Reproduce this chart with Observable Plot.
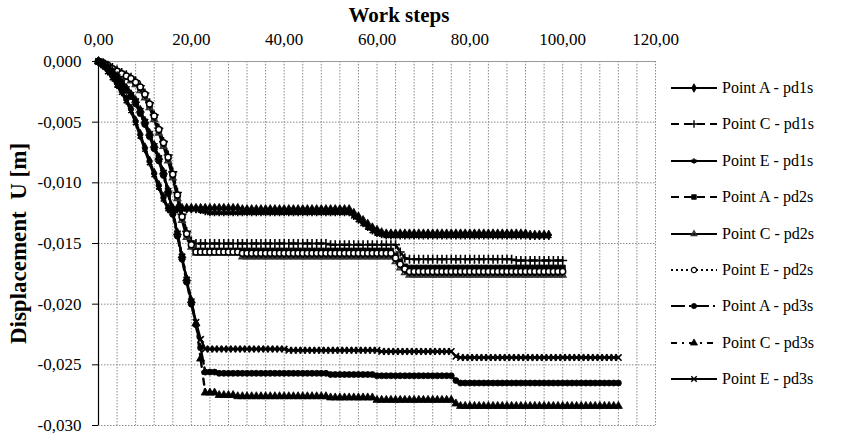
<!DOCTYPE html>
<html>
<head>
<meta charset="utf-8">
<script src="https://cdn.jsdelivr.net/npm/d3@7"></script>
<script src="https://cdn.jsdelivr.net/npm/@observablehq/plot@0.6"></script>
<style>
  html, body { margin: 0; padding: 0; background: #fff; }
  #wrap { position: relative; width: 843px; height: 438px; font-family: "Liberation Serif", "DejaVu Serif", "Liberation Sans", sans-serif; }
  #legend { position: absolute; left: 670px; top: 0px; }
  .row { position: absolute; left: 0; display: flex; align-items: center; white-space: nowrap; font-size: 16px; color: #000; }
  .row svg { display: block; }
  .row span { margin-left: 4px; }
</style>
</head>
<body>
<div id="wrap"><div id="legend"></div></div>
<script>
// ---- tick labels ----
const xTicks = [0, 20, 40, 60, 80, 100, 120];
const yTicks = [0, -0.005, -0.010, -0.015, -0.020, -0.025, -0.030];
const xTitle = "Work steps";
const yTitle = "Displacement  U [m]";

// ---- series names ----
const seriesNames = ["Point A - pd1s", "Point C - pd1s", "Point E - pd1s",
                     "Point A - pd2s", "Point C - pd2s", "Point E - pd2s",
                     "Point A - pd3s", "Point C - pd3s", "Point E - pd3s"];

// ---- displacement U [m] per work step (index = step) ----
const A_pd1s = [
  0, -0.0003, -0.0007, -0.0012, -0.0018, -0.0024, -0.0031, -0.0039, -0.0049, -0.0060,
  -0.0071, -0.0082, -0.0092, -0.0102, -0.0112, -0.0121, -0.0121, -0.0121, -0.0121, -0.0121,
  -0.0121, -0.0121, -0.0121, -0.0121, -0.0121, -0.0121, -0.0121, -0.0121, -0.0121, -0.0121,
  -0.0121, -0.0122, -0.0122, -0.0122, -0.0122, -0.0122, -0.0122, -0.0122, -0.0122, -0.0122,
  -0.0122, -0.0122, -0.0122, -0.0122, -0.0122, -0.0122, -0.0122, -0.0122, -0.0122, -0.0122,
  -0.0122, -0.0122, -0.0122, -0.0122, -0.0122, -0.0125, -0.0128, -0.0131, -0.0134, -0.0137,
  -0.0139, -0.0141, -0.0142, -0.0142, -0.0142, -0.0142, -0.0142, -0.0142, -0.0142, -0.0142,
  -0.0142, -0.0142, -0.0142, -0.0142, -0.0142, -0.0142, -0.0142, -0.0142, -0.0142, -0.0142,
  -0.0142, -0.0142, -0.0142, -0.0142, -0.0142, -0.0142, -0.0142, -0.0142, -0.0142, -0.0142,
  -0.0142, -0.0142, -0.0142, -0.0143, -0.0143, -0.0143, -0.0143, -0.0143
];
const C_pd1s = [
  0, -0.0001, -0.0003, -0.0005, -0.0007, -0.0009, -0.0011, -0.0013, -0.0016, -0.0020,
  -0.0026, -0.0034, -0.0044, -0.0055, -0.0066, -0.0077, -0.0091, -0.0108, -0.0126, -0.0140,
  -0.0148, -0.0150, -0.0150, -0.0150, -0.0150, -0.0150, -0.0150, -0.0150, -0.0150, -0.0150,
  -0.0150, -0.0150, -0.0150, -0.0150, -0.0150, -0.0150, -0.0150, -0.0150, -0.0150, -0.0150,
  -0.0150, -0.0150, -0.0150, -0.0150, -0.0150, -0.0150, -0.0150, -0.0150, -0.0150, -0.0150,
  -0.0151, -0.0151, -0.0151, -0.0151, -0.0151, -0.0151, -0.0151, -0.0151, -0.0151, -0.0151,
  -0.0151, -0.0151, -0.0151, -0.0151, -0.0151, -0.0157, -0.0162, -0.0163, -0.0163, -0.0163,
  -0.0163, -0.0163, -0.0163, -0.0163, -0.0163, -0.0163, -0.0163, -0.0163, -0.0163, -0.0163,
  -0.0163, -0.0163, -0.0163, -0.0163, -0.0163, -0.0163, -0.0163, -0.0163, -0.0163, -0.0163,
  -0.0164, -0.0164, -0.0164, -0.0164, -0.0164, -0.0164, -0.0164, -0.0164, -0.0164, -0.0164,
  -0.0164
];
const E_pd1s = [
  0, -0.0004, -0.0009, -0.0014, -0.0020, -0.0026, -0.0033, -0.0041, -0.0051, -0.0062,
  -0.0073, -0.0084, -0.0094, -0.0104, -0.0114, -0.0122, -0.0122, -0.0122, -0.0122, -0.0122,
  -0.0122, -0.0122, -0.0123, -0.0124, -0.0125, -0.0125, -0.0125, -0.0125, -0.0125, -0.0125,
  -0.0125, -0.0125, -0.0125, -0.0125, -0.0125, -0.0125, -0.0125, -0.0125, -0.0125, -0.0125,
  -0.0125, -0.0125, -0.0125, -0.0125, -0.0125, -0.0125, -0.0125, -0.0125, -0.0125, -0.0125,
  -0.0125, -0.0125, -0.0125, -0.0125, -0.0125, -0.0128, -0.0131, -0.0134, -0.0137, -0.0140,
  -0.0142, -0.0143, -0.0144, -0.0144, -0.0144, -0.0144, -0.0144, -0.0144, -0.0144, -0.0144,
  -0.0144, -0.0144, -0.0144, -0.0144, -0.0144, -0.0144, -0.0144, -0.0144, -0.0144, -0.0144,
  -0.0144, -0.0144, -0.0144, -0.0144, -0.0144, -0.0144, -0.0144, -0.0144, -0.0144, -0.0144,
  -0.0144, -0.0144, -0.0144, -0.0144, -0.0144, -0.0144, -0.0144, -0.0144
];
const A_pd2s = [
  0, -0.0002, -0.0004, -0.0006, -0.0008, -0.0010, -0.0012, -0.0015, -0.0018, -0.0022,
  -0.0028, -0.0036, -0.0046, -0.0057, -0.0068, -0.0080, -0.0094, -0.0111, -0.0129, -0.0143,
  -0.0152, -0.0156, -0.0156, -0.0156, -0.0156, -0.0156, -0.0156, -0.0156, -0.0156, -0.0156,
  -0.0156, -0.0156, -0.0156, -0.0156, -0.0156, -0.0156, -0.0156, -0.0156, -0.0156, -0.0156,
  -0.0156, -0.0156, -0.0156, -0.0156, -0.0156, -0.0156, -0.0156, -0.0156, -0.0156, -0.0156,
  -0.0156, -0.0156, -0.0156, -0.0156, -0.0156, -0.0156, -0.0156, -0.0156, -0.0156, -0.0156,
  -0.0156, -0.0156, -0.0156, -0.0156, -0.0160, -0.0165, -0.0169, -0.0170, -0.0170, -0.0170,
  -0.0170, -0.0170, -0.0170, -0.0170, -0.0170, -0.0170, -0.0170, -0.0170, -0.0170, -0.0170,
  -0.0170, -0.0170, -0.0170, -0.0170, -0.0170, -0.0170, -0.0170, -0.0170, -0.0170, -0.0170,
  -0.0170, -0.0170, -0.0170, -0.0170, -0.0170, -0.0170, -0.0170, -0.0170, -0.0170, -0.0170,
  -0.0170
];
const C_pd2s = [
  0, -0.0002, -0.0004, -0.0007, -0.0009, -0.0011, -0.0013, -0.0016, -0.0019, -0.0024,
  -0.0030, -0.0038, -0.0048, -0.0059, -0.0070, -0.0082, -0.0096, -0.0113, -0.0131, -0.0145,
  -0.0153, -0.0158, -0.0158, -0.0158, -0.0158, -0.0158, -0.0158, -0.0158, -0.0158, -0.0158,
  -0.0158, -0.0161, -0.0161, -0.0161, -0.0161, -0.0161, -0.0161, -0.0161, -0.0161, -0.0161,
  -0.0161, -0.0161, -0.0161, -0.0161, -0.0161, -0.0161, -0.0161, -0.0161, -0.0161, -0.0161,
  -0.0161, -0.0161, -0.0161, -0.0161, -0.0161, -0.0161, -0.0161, -0.0161, -0.0161, -0.0161,
  -0.0161, -0.0161, -0.0161, -0.0161, -0.0165, -0.0170, -0.0174, -0.0176, -0.0176, -0.0176,
  -0.0176, -0.0176, -0.0176, -0.0176, -0.0176, -0.0176, -0.0176, -0.0176, -0.0176, -0.0176,
  -0.0176, -0.0176, -0.0176, -0.0176, -0.0176, -0.0176, -0.0176, -0.0176, -0.0176, -0.0176,
  -0.0176, -0.0176, -0.0176, -0.0176, -0.0176, -0.0176, -0.0176, -0.0176, -0.0176, -0.0176,
  -0.0176
];
const E_pd2s = [
  0, -0.0001, -0.0003, -0.0006, -0.0008, -0.0010, -0.0012, -0.0014, -0.0017, -0.0021,
  -0.0027, -0.0035, -0.0045, -0.0056, -0.0067, -0.0079, -0.0093, -0.0110, -0.0128, -0.0142,
  -0.0151, -0.0157, -0.0157, -0.0157, -0.0157, -0.0157, -0.0157, -0.0157, -0.0157, -0.0157,
  -0.0157, -0.0158, -0.0158, -0.0158, -0.0158, -0.0158, -0.0158, -0.0158, -0.0158, -0.0158,
  -0.0158, -0.0158, -0.0158, -0.0158, -0.0158, -0.0158, -0.0158, -0.0158, -0.0158, -0.0158,
  -0.0158, -0.0158, -0.0158, -0.0158, -0.0158, -0.0158, -0.0158, -0.0158, -0.0158, -0.0158,
  -0.0158, -0.0158, -0.0158, -0.0158, -0.0162, -0.0167, -0.0171, -0.0173, -0.0173, -0.0173,
  -0.0173, -0.0173, -0.0173, -0.0173, -0.0173, -0.0173, -0.0173, -0.0173, -0.0173, -0.0173,
  -0.0173, -0.0173, -0.0173, -0.0173, -0.0173, -0.0173, -0.0173, -0.0173, -0.0173, -0.0173,
  -0.0173, -0.0173, -0.0173, -0.0173, -0.0173, -0.0173, -0.0173, -0.0173, -0.0173, -0.0173,
  -0.0173
];
const A_pd3s = [
  0, -0.0003, -0.0006, -0.0010, -0.0014, -0.0019, -0.0024, -0.0029, -0.0035, -0.0043,
  -0.0052, -0.0062, -0.0072, -0.0082, -0.0094, -0.0109, -0.0126, -0.0144, -0.0163, -0.0182,
  -0.0200, -0.0217, -0.0236, -0.0256, -0.0256, -0.0256, -0.0257, -0.0257, -0.0257, -0.0257,
  -0.0257, -0.0257, -0.0257, -0.0257, -0.0257, -0.0257, -0.0257, -0.0257, -0.0257, -0.0257,
  -0.0257, -0.0257, -0.0257, -0.0257, -0.0257, -0.0257, -0.0257, -0.0257, -0.0257, -0.0257,
  -0.0258, -0.0258, -0.0258, -0.0258, -0.0258, -0.0258, -0.0258, -0.0258, -0.0258, -0.0258,
  -0.0259, -0.0259, -0.0259, -0.0259, -0.0259, -0.0259, -0.0259, -0.0259, -0.0259, -0.0259,
  -0.0259, -0.0259, -0.0259, -0.0259, -0.0259, -0.0259, -0.0259, -0.0263, -0.0265, -0.0265,
  -0.0265, -0.0265, -0.0265, -0.0265, -0.0265, -0.0265, -0.0265, -0.0265, -0.0265, -0.0265,
  -0.0265, -0.0265, -0.0265, -0.0265, -0.0265, -0.0265, -0.0265, -0.0265, -0.0265, -0.0265,
  -0.0265, -0.0265, -0.0265, -0.0265, -0.0265, -0.0265, -0.0265, -0.0265, -0.0265, -0.0265,
  -0.0265, -0.0265, -0.0265
];
const C_pd3s = [
  0, -0.0002, -0.0004, -0.0008, -0.0012, -0.0017, -0.0022, -0.0027, -0.0032, -0.0040,
  -0.0049, -0.0059, -0.0069, -0.0079, -0.0091, -0.0106, -0.0123, -0.0141, -0.0160, -0.0179,
  -0.0197, -0.0216, -0.0245, -0.0273, -0.0273, -0.0273, -0.0275, -0.0275, -0.0275, -0.0275,
  -0.0276, -0.0276, -0.0276, -0.0276, -0.0276, -0.0276, -0.0276, -0.0276, -0.0276, -0.0276,
  -0.0276, -0.0276, -0.0276, -0.0276, -0.0276, -0.0276, -0.0276, -0.0276, -0.0276, -0.0276,
  -0.0277, -0.0277, -0.0277, -0.0277, -0.0277, -0.0277, -0.0277, -0.0277, -0.0277, -0.0277,
  -0.0279, -0.0279, -0.0279, -0.0279, -0.0279, -0.0279, -0.0279, -0.0279, -0.0279, -0.0279,
  -0.0279, -0.0279, -0.0279, -0.0279, -0.0279, -0.0279, -0.0279, -0.0282, -0.0284, -0.0284,
  -0.0284, -0.0284, -0.0284, -0.0284, -0.0284, -0.0284, -0.0284, -0.0284, -0.0284, -0.0284,
  -0.0284, -0.0284, -0.0284, -0.0284, -0.0284, -0.0284, -0.0284, -0.0284, -0.0284, -0.0284,
  -0.0284, -0.0284, -0.0284, -0.0284, -0.0284, -0.0284, -0.0284, -0.0284, -0.0284, -0.0284,
  -0.0284, -0.0284, -0.0284
];
const E_pd3s = [
  0, -0.0002, -0.0005, -0.0009, -0.0013, -0.0018, -0.0023, -0.0028, -0.0033, -0.0041,
  -0.0050, -0.0060, -0.0070, -0.0080, -0.0092, -0.0107, -0.0124, -0.0142, -0.0161, -0.0180,
  -0.0198, -0.0215, -0.0229, -0.0237, -0.0237, -0.0237, -0.0237, -0.0237, -0.0237, -0.0237,
  -0.0237, -0.0237, -0.0237, -0.0237, -0.0237, -0.0237, -0.0237, -0.0237, -0.0237, -0.0237,
  -0.0237, -0.0238, -0.0238, -0.0238, -0.0238, -0.0238, -0.0238, -0.0238, -0.0238, -0.0238,
  -0.0238, -0.0238, -0.0238, -0.0238, -0.0238, -0.0238, -0.0238, -0.0238, -0.0238, -0.0238,
  -0.0238, -0.0239, -0.0239, -0.0239, -0.0239, -0.0239, -0.0239, -0.0239, -0.0239, -0.0239,
  -0.0239, -0.0239, -0.0239, -0.0239, -0.0239, -0.0239, -0.0239, -0.0243, -0.0244, -0.0244,
  -0.0244, -0.0244, -0.0244, -0.0244, -0.0244, -0.0244, -0.0244, -0.0244, -0.0244, -0.0244,
  -0.0244, -0.0244, -0.0244, -0.0244, -0.0244, -0.0244, -0.0244, -0.0244, -0.0244, -0.0244,
  -0.0244, -0.0244, -0.0244, -0.0244, -0.0244, -0.0244, -0.0244, -0.0244, -0.0244, -0.0244,
  -0.0244, -0.0244, -0.0244
];

// ---- styling per series (legend order) ----
const seriesValues = [A_pd1s, C_pd1s, E_pd1s, A_pd2s, C_pd2s, E_pd2s, A_pd3s, C_pd3s, E_pd3s];
const styles = [
  {dash: null,        symbol: "diamond",   filled: true},
  {dash: "8,5",       symbol: "plus",      filled: false},
  {dash: null,        symbol: "asterisk",  filled: false},
  {dash: "8,5",       symbol: "square",    filled: true},
  {dash: null,        symbol: "triangle2", filled: false, gray: true},
  {dash: "2,3",       symbol: "circle",    filled: false, hollow: true},
  {dash: "14,4,2,4",  symbol: "circle",    filled: true},
  {dash: "6,5,2,5",   symbol: "triangle",  filled: true},
  {dash: null,        symbol: "times",     filled: false}
];

const series = seriesNames.map((name, k) => ({
  name, ...styles[k],
  rows: seriesValues[k].map((u, i) => ({step: i, u, series: name}))
}));

const fmtX = d => d.toFixed(2).replace(".", ",");
const fmtY = d => (Math.abs(d) < 1e-12 ? "0,000" : d.toFixed(3).replace(".", ","));
const FONT = "'Liberation Serif', 'DejaVu Serif', 'Liberation Sans', sans-serif";

const marks = [
  Plot.gridX(d3.range(0, 121, 4), {stroke: "#8a8a8a", strokeOpacity: 1, strokeWidth: 1, strokeDasharray: "1.5,1.5"}),
  Plot.gridY(yTicks, {stroke: "#8a8a8a", strokeOpacity: 1, strokeWidth: 1, strokeDasharray: "1.5,1.5"}),
  Plot.ruleY([0], {stroke: "#9a9a9a", strokeWidth: 1}),
  Plot.axisX(xTicks, {anchor: "top", tickSize: 0, tickPadding: 17, tickFormat: fmtX, label: null, fontSize: 17}),
  Plot.axisY(yTicks, {anchor: "left", tickSize: 6, tickPadding: 11, tickFormat: fmtY, label: null, fontSize: 17}),
  Plot.ruleX([0], {stroke: "#000", strokeWidth: 1.2})
];

for (const s of series) {
  marks.push(Plot.line(s.rows, {x: "step", y: "u", stroke: "#000", strokeWidth: 2.4,
    strokeDasharray: s.dash || undefined}));
}
for (const s of series) {
  const opts = {x: "step", y: "u", r: 3};
  if (s.filled) { opts.fill = "#000"; opts.stroke = "#000"; opts.strokeWidth = 0.8; }
  else if (s.hollow) { opts.fill = "#fff"; opts.stroke = "#000"; opts.strokeWidth = 1.5; }
  else { opts.fill = "none"; opts.stroke = s.gray ? "#333" : "#000"; opts.strokeWidth = 1.6; }
  opts.symbol = s.symbol;
  marks.push(Plot.dot(s.rows, opts));
}

marks.push(Plot.text([xTitle], {frameAnchor: "top", textAnchor: "middle", dx: 22, dy: -54, fontWeight: "bold", fontSize: 21, fill: "#000"}));
marks.push(Plot.text([yTitle], {frameAnchor: "left", textAnchor: "middle", rotate: -90, dx: -80, fontWeight: "bold", fontSize: 23, fill: "#000"}));

const chart = Plot.plot({
  width: 843, height: 438,
  marginTop: 61, marginBottom: 13, marginLeft: 98, marginRight: 188,
  x: {domain: [0, 120]},
  y: {domain: [-0.030, 0]},
  style: {fontFamily: FONT, fontSize: "17px", color: "#000", background: "#fff", overflow: "visible"},
  marks
});
document.getElementById("wrap").prepend(chart);

// ---- legend (right side) ----
const legend = d3.select("#legend");
series.forEach((s, k) => {
  const row = legend.append("div").attr("class", "row").style("top", (79 + k * 36.4) + "px");
  const svg = row.append("svg").attr("width", 48).attr("height", 16);
  svg.append("line").attr("x1", 1).attr("x2", 47).attr("y1", 8).attr("y2", 8)
    .attr("stroke", "#000").attr("stroke-width", 2.2).attr("stroke-dasharray", s.dash || null);
  const symMap = {diamond: d3.symbolDiamond, plus: d3.symbolPlus, asterisk: d3.symbolAsterisk, square: d3.symbolSquare,
    triangle2: d3.symbolTriangle2, circle: d3.symbolCircle, triangle: d3.symbolTriangle, times: d3.symbolTimes};
  const path = d3.symbol(symMap[s.symbol], 2.6 * 2.6 * Math.PI)();
  const p = svg.append("path").attr("d", path).attr("transform", "translate(24,8)");
  if (s.filled) p.attr("fill", "#000").attr("stroke", "#000").attr("stroke-width", 0.8);
  else if (s.hollow) p.attr("fill", "#fff").attr("stroke", "#000").attr("stroke-width", 1.3);
  else p.attr("fill", "none").attr("stroke", s.gray ? "#333" : "#000").attr("stroke-width", 1.4);
  row.append("span").text(s.name);
});
</script>
</body>
</html>
